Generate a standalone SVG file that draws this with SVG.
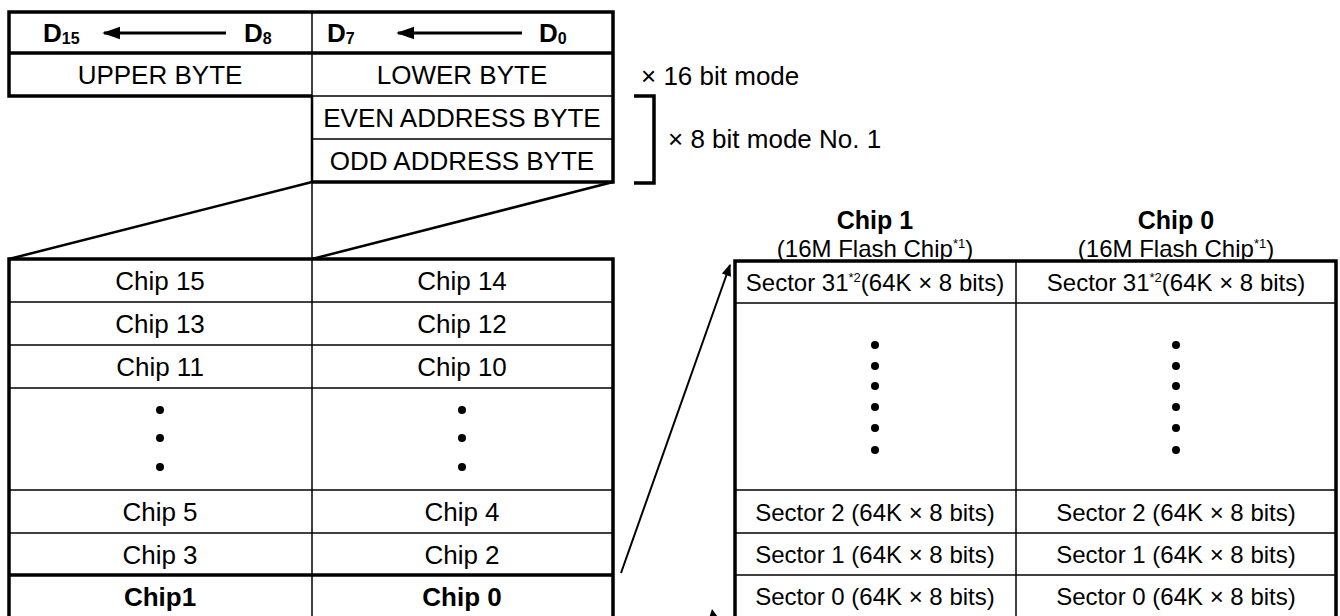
<svg xmlns="http://www.w3.org/2000/svg" width="1340" height="616" viewBox="0 0 1340 616">
<style>
text{font-family:"Liberation Sans",Arial,sans-serif;font-size:26px;fill:#000}
.c{text-anchor:middle}
.b{font-weight:bold}
.s{font-size:24px}
.h{font-size:25px;font-weight:bold}
.thick{stroke:#000;stroke-width:3.5;fill:none}
.thin{stroke:#000;stroke-width:1.5;fill:none}
.med{stroke:#000;stroke-width:2.5;fill:none}
.sub{font-size:16px;font-weight:bold}
.sup{font-size:13px}
</style>
<defs>
<marker id="ah" viewBox="0 0 10 10" refX="9" refY="5" markerWidth="6" markerHeight="6" orient="auto-start-reverse" markerUnits="strokeWidth">
<path d="M0,1.5 L10,5 L0,8.5 Z" fill="#000"/>
</marker>
<marker id="ah2" viewBox="0 0 10 10" refX="9" refY="5" markerWidth="7" markerHeight="6" orient="auto" markerUnits="strokeWidth">
<path d="M0,1 L10,5 L0,9 Z" fill="#000"/>
</marker>
</defs>

<g id="top-table">
<line class="thin" x1="312" y1="12" x2="312" y2="96"/>
<line class="thin" x1="312" y1="96" x2="613" y2="96"/>
<line class="thin" x1="312" y1="139" x2="613" y2="139"/>
<line class="med" x1="312" y1="96" x2="312" y2="182"/>
<line class="thick" x1="8" y1="53" x2="613" y2="53"/>
<path class="thick" d="M312,96 H9 V12 H613 V182 H312"/>
<text class="b" x="43" y="42">D<tspan class="sub" dy="2">15</tspan></text>
<line x1="104" y1="33" x2="226" y2="33" stroke="#000" stroke-width="3" marker-start="url(#ah)"/>
<text class="b" x="244" y="42">D<tspan class="sub" dy="2">8</tspan></text>
<text class="b" x="327" y="42">D<tspan class="sub" dy="2">7</tspan></text>
<line x1="398" y1="33" x2="522" y2="33" stroke="#000" stroke-width="3" marker-start="url(#ah)"/>
<text class="b" x="539" y="42">D<tspan class="sub" dy="2">0</tspan></text>
<text class="c" x="160" y="84">UPPER BYTE</text>
<text class="c" x="462" y="84">LOWER BYTE</text>
<text class="c" x="462" y="127">EVEN ADDRESS BYTE</text>
<text class="c" x="462" y="170">ODD ADDRESS BYTE</text>
</g>

<g id="mode-labels">
<path class="thick" d="M634,96 H654 V183 H634"/>
<text x="641" y="85">× 16 bit mode</text>
<text x="668" y="148">× 8 bit mode No. 1</text>
</g>

<g id="chip-table">
<line class="thin" x1="312" y1="182" x2="312" y2="259"/>
<line class="thin" x1="312" y1="259" x2="312" y2="620"/>
<line class="thin" x1="9" y1="302" x2="613" y2="302"/>
<line class="thin" x1="9" y1="345" x2="613" y2="345"/>
<line class="thin" x1="9" y1="388" x2="613" y2="388"/>
<line class="thin" x1="9" y1="490" x2="613" y2="490"/>
<line class="thin" x1="9" y1="533" x2="613" y2="533"/>
<line class="thick" x1="9" y1="575" x2="613" y2="575"/>
<path class="thick" d="M9,620 V259 H613 V620"/>
<text class="c" x="160" y="290">Chip 15</text>
<text class="c" x="462" y="290">Chip 14</text>
<text class="c" x="160" y="333">Chip 13</text>
<text class="c" x="462" y="333">Chip 12</text>
<text class="c" x="160" y="376">Chip 11</text>
<text class="c" x="462" y="376">Chip 10</text>
<circle cx="160" cy="410" r="4"/><circle cx="160" cy="438" r="4"/><circle cx="160" cy="467" r="4"/>
<circle cx="462" cy="410" r="4"/><circle cx="462" cy="438" r="4"/><circle cx="462" cy="467" r="4"/>
<text class="c" x="160" y="521">Chip 5</text>
<text class="c" x="462" y="521">Chip 4</text>
<text class="c" x="160" y="564">Chip 3</text>
<text class="c" x="462" y="564">Chip 2</text>
<text class="c b" x="160" y="606">Chip1</text>
<text class="c b" x="462" y="606">Chip 0</text>
</g>

<g id="sector-table">
<text class="c h" x="875" y="229">Chip 1</text>
<text class="c h" x="1176" y="229">Chip 0</text>
<text class="c s" x="875" y="257">(16M Flash Chip<tspan class="sup" dy="-9">*1</tspan><tspan dy="9">)</tspan></text>
<text class="c s" x="1176" y="257">(16M Flash Chip<tspan class="sup" dy="-9">*1</tspan><tspan dy="9">)</tspan></text>
<line class="thin" x1="1016" y1="261" x2="1016" y2="620"/>
<line class="thin" x1="735" y1="303" x2="1336" y2="303"/>
<line class="thin" x1="735" y1="490" x2="1336" y2="490"/>
<line class="thin" x1="735" y1="533" x2="1336" y2="533"/>
<line class="thin" x1="735" y1="575" x2="1336" y2="575"/>
<path class="thick" d="M735,620 V261 H1336 V620"/>
<text class="c s" x="875" y="291">Sector 31<tspan class="sup" dy="-9">*2</tspan><tspan dy="9">(64K × 8 bits)</tspan></text>
<text class="c s" x="1176" y="291">Sector 31<tspan class="sup" dy="-9">*2</tspan><tspan dy="9">(64K × 8 bits)</tspan></text>
<circle cx="875" cy="345" r="4"/><circle cx="875" cy="366" r="4"/><circle cx="875" cy="386" r="4"/><circle cx="875" cy="407" r="4"/><circle cx="875" cy="428" r="4"/><circle cx="875" cy="450" r="4"/>
<circle cx="1176" cy="345" r="4"/><circle cx="1176" cy="366" r="4"/><circle cx="1176" cy="386" r="4"/><circle cx="1176" cy="407" r="4"/><circle cx="1176" cy="428" r="4"/><circle cx="1176" cy="450" r="4"/>
<text class="c s" x="875" y="521">Sector 2 (64K × 8 bits)</text>
<text class="c s" x="1176" y="521">Sector 2 (64K × 8 bits)</text>
<text class="c s" x="875" y="563">Sector 1 (64K × 8 bits)</text>
<text class="c s" x="1176" y="563">Sector 1 (64K × 8 bits)</text>
<text class="c s" x="875" y="605">Sector 0 (64K × 8 bits)</text>
<text class="c s" x="1176" y="605">Sector 0 (64K × 8 bits)</text>
</g>

<g id="connectors">
<line class="med" x1="9" y1="259" x2="312" y2="182"/>
<line class="med" x1="312" y1="259" x2="613" y2="182"/>
<line x1="621" y1="573" x2="730" y2="265" stroke="#000" stroke-width="2" marker-end="url(#ah2)"/>
<path d="M712,609 L735,640 L702,640 Z" fill="#000"/>
</g>
</svg>
